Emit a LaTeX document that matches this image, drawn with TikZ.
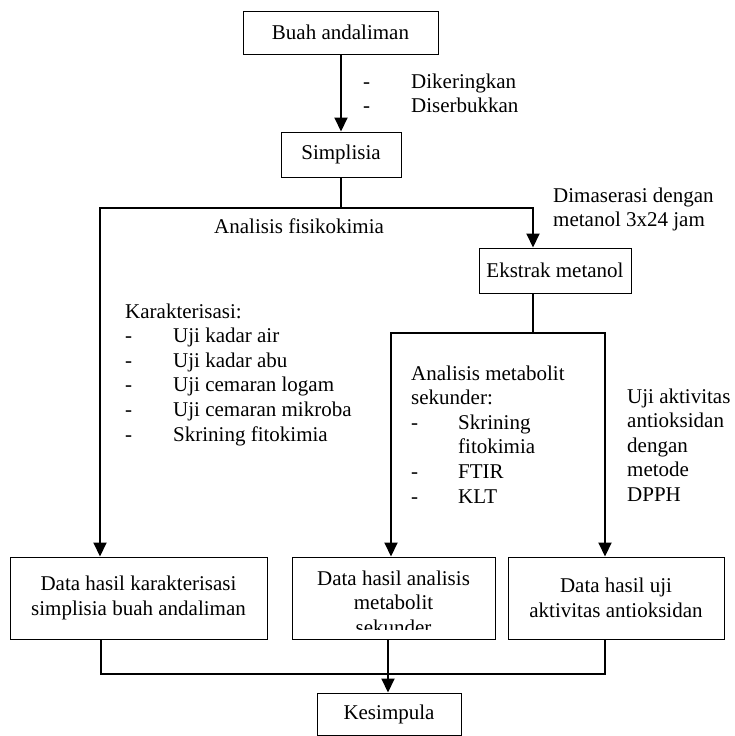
\documentclass[tikz,border=0pt]{standalone}
\usepackage{fontspec}
\setmainfont{Liberation Serif}
\usetikzlibrary{arrows.meta}
\begin{document}
\begin{tikzpicture}[x=1pt,y=-1pt,
  font=\fontsize{21}{24.6}\selectfont,
  box/.style={draw, line width=1pt, inner sep=0pt, align=center},
  conn/.style={line width=2pt},
  arr/.style={line width=2pt, -{Triangle[width=13pt,length=14pt]}},
  lbl/.style={inner sep=0pt, anchor=base west}]
\useasboundingbox (0,0) rectangle (734,736);

% boxes
\node[box, minimum width=195pt, minimum height=43pt] (buah) at (340.5,32.5) {Buah andaliman};
\node[box, minimum width=120pt, minimum height=45pt] (simp) at (341,154.5) {Simplisia};
\node[box, minimum width=152pt, minimum height=45pt] (ekst) at (555,270.5) {Ekstrak metanol};
\node[box, minimum width=257pt, minimum height=82pt] (d1) at (138.5,598) {Data hasil karakterisasi\\simplisia buah andaliman};
\node[box, minimum width=203pt, minimum height=82pt] (d2) at (393.5,598) {};
\node[box, minimum width=216pt, minimum height=82pt] (d3) at (616,598) {Data hasil uji\\aktivitas antioksidan};
\node[box, minimum width=144pt, minimum height=42pt] (kes) at (389,714) {Kesimpula};

\begin{scope}
  \clip (293,558) rectangle (494,629);
  \node[inner sep=0pt, anchor=base] (d2t) at (393.5,585) {\begin{tabular}[t]{@{}c@{}}Data hasil analisis\\metabolit\\sekunder\end{tabular}};
\end{scope}

% branch points
\coordinate (s1) at (341,208);
\coordinate (lft) at (100,208);
\coordinate (rgt) at (533,208);
\coordinate (e1) at (533,333);
\coordinate (ml) at (391,333);
\coordinate (mr) at (605,333);
\coordinate (b1) at (101,674);
\coordinate (b3) at (605,674);

% connectors
\draw[arr] (buah.south -| s1) -- (simp.north -| s1);
\draw[conn] (simp.south -| s1) -- (s1);
\draw[arr] (s1) -- (lft) -- (d1.north -| lft);
\draw[arr] (s1) -- (rgt) -- (ekst.north -| rgt);
\draw[conn] (ekst.south -| e1) -- (e1);
\draw[arr] (e1) -- (ml) -- (d2.north -| ml);
\draw[arr] (e1) -- (mr) -- (d3.north -| mr);
\draw[conn] (d1.south -| b1) -- (b1) -- (b3) -- (d3.south -| b3);
\draw[arr] (d2.south -| 388,0) -- (kes.north -| 388,0);

% labels
\node[lbl] (t1) at (363,88) {\begin{tabular}[t]{@{}l@{}}\makebox[48pt][l]{-}Dikeringkan\\\makebox[48pt][l]{-}Diserbukkan\end{tabular}};
\node[lbl] (t2) at (214,233) {Analisis fisikokimia};
\node[lbl] (t3) at (553,202) {\begin{tabular}[t]{@{}l@{}}Dimaserasi dengan\\metanol 3x24 jam\end{tabular}};
\node[lbl] (t4) at (125,318) {\begin{tabular}[t]{@{}l@{}}Karakterisasi:\\
\makebox[48pt][l]{-}Uji kadar air\\
\makebox[48pt][l]{-}Uji kadar abu\\
\makebox[48pt][l]{-}Uji cemaran logam\\
\makebox[48pt][l]{-}Uji cemaran mikroba\\
\makebox[48pt][l]{-}Skrining fitokimia\end{tabular}};
\node[lbl] (t5) at (411,380) {\begin{tabular}[t]{@{}l@{}}Analisis metabolit\\
sekunder:\\
\makebox[47pt][l]{-}Skrining\\
\makebox[47pt][l]{}fitokimia\\
\makebox[47pt][l]{-}FTIR\\
\makebox[47pt][l]{-}KLT\end{tabular}};
\node[lbl] (t6) at (627,403) {\begin{tabular}[t]{@{}l@{}}Uji aktivitas\\antioksidan\\dengan\\metode\\DPPH\end{tabular}};
\end{tikzpicture}
\end{document}
